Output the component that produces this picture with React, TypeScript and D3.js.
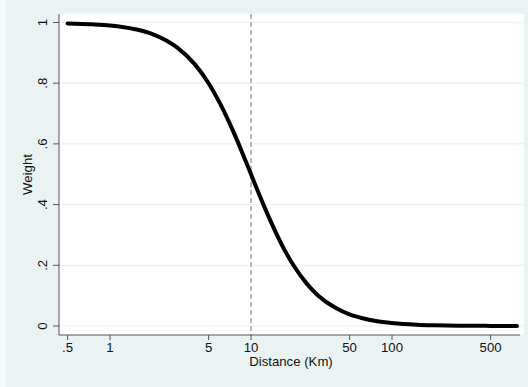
import { useEffect } from 'react';
import * as d3 from 'd3';

// distance (km) vs weight
const distances = [
  0.5, 0.75, 1, 1.5, 2, 3, 4, 5, 6, 7, 8, 9, 10, 11, 12.5, 15, 17.5, 20, 25, 30,
  40, 50, 60, 75, 100, 150, 200, 300, 500, 770,
];
const weights = [
  0.997, 0.994, 0.99, 0.978, 0.962, 0.917, 0.862, 0.8, 0.735, 0.671, 0.61,
  0.552, 0.5, 0.452, 0.39, 0.308, 0.246, 0.2, 0.138, 0.1, 0.059, 0.038, 0.027,
  0.017, 0.01, 0.0044, 0.0025, 0.0011, 0.0004, 0.0002,
];
const xTicks = [0.5, 1, 5, 10, 50, 100, 500];
const xTickLabels = ['.5', '1', '5', '10', '50', '100', '500'];
const yTicks = [0, 0.2, 0.4, 0.6, 0.8, 1];
const yTickLabels = ['0', '.2', '.4', '.6', '.8', '1'];
const cutoff = 10;

const W = 528;
const H = 387;
const plot = { left: 59, right: 524, top: 14, bottom: 335 };
const font = "'Liberation Sans', Arial, Helvetica, sans-serif";
const fs = 13.2;

export default function App() {
  useEffect(() => {
    document.body.style.margin = '0';
  }, []);

  const x = d3.scaleLog().domain([0.5, 770]).range([67.6, 517]);
  const y = d3.scaleLinear().domain([0, 1]).range([326, 22.5]);

  const pts = distances.map((d, i) => [d, weights[i]] as [number, number]);
  const line = d3
    .line<[number, number]>()
    .x((d) => x(d[0]))
    .y((d) => y(d[1]))
    .curve(d3.curveMonotoneX);

  return (
    <svg width={W} height={H} style={{ display: 'block' }} fontFamily={font}>
      <rect width={W} height={H} fill="#EAF2F3" />
      <rect width={6} height={H} fill="#F5F9F9" />
      <rect
        x={plot.left}
        y={plot.top}
        width={plot.right - plot.left}
        height={plot.bottom - plot.top}
        fill="#fff"
      />
      {yTicks.map((t) => (
        <line
          key={'g' + t}
          x1={plot.left}
          x2={plot.right}
          y1={y(t)}
          y2={y(t)}
          stroke="#EAF2F3"
          strokeWidth={1.2}
        />
      ))}
      <line
        x1={x(cutoff)}
        x2={x(cutoff)}
        y1={plot.top}
        y2={plot.bottom}
        stroke="#8a8a8a"
        strokeWidth={1.2}
        strokeDasharray="5,3"
      />
      <path
        d={line(pts) ?? ''}
        fill="none"
        stroke="#000"
        strokeWidth={4}
        strokeLinecap="round"
        strokeLinejoin="round"
      />
      {/* axes */}
      <line x1={plot.left} x2={plot.left} y1={plot.top} y2={plot.bottom} stroke="#555" />
      <line x1={plot.left} x2={plot.right - 4} y1={plot.bottom} y2={plot.bottom} stroke="#555" />
      {yTicks.map((t, i) => (
        <g key={'y' + t}>
          <line x1={plot.left - 6} x2={plot.left} y1={y(t)} y2={y(t)} stroke="#555" />
          <text
            transform={`translate(47,${y(t)}) rotate(-90)`}
            textAnchor="middle"
            fontSize={fs}
            fill="#111"
          >
            {yTickLabels[i]}
          </text>
        </g>
      ))}
      {xTicks.map((t, i) => (
        <g key={'x' + t}>
          <line x1={x(t)} x2={x(t)} y1={plot.bottom} y2={plot.bottom + 5} stroke="#555" />
          <text x={x(t)} y={352} textAnchor="middle" fontSize={fs} fill="#111">
            {xTickLabels[i]}
          </text>
        </g>
      ))}
      <text x={291} y={366} textAnchor="middle" fontSize={fs} fill="#111">
        Distance (Km)
      </text>
      <text
        transform={`translate(32,${(plot.top + plot.bottom) / 2}) rotate(-90)`}
        textAnchor="middle"
        fontSize={fs}
        fill="#111"
      >
        Weight
      </text>
    </svg>
  );
}
